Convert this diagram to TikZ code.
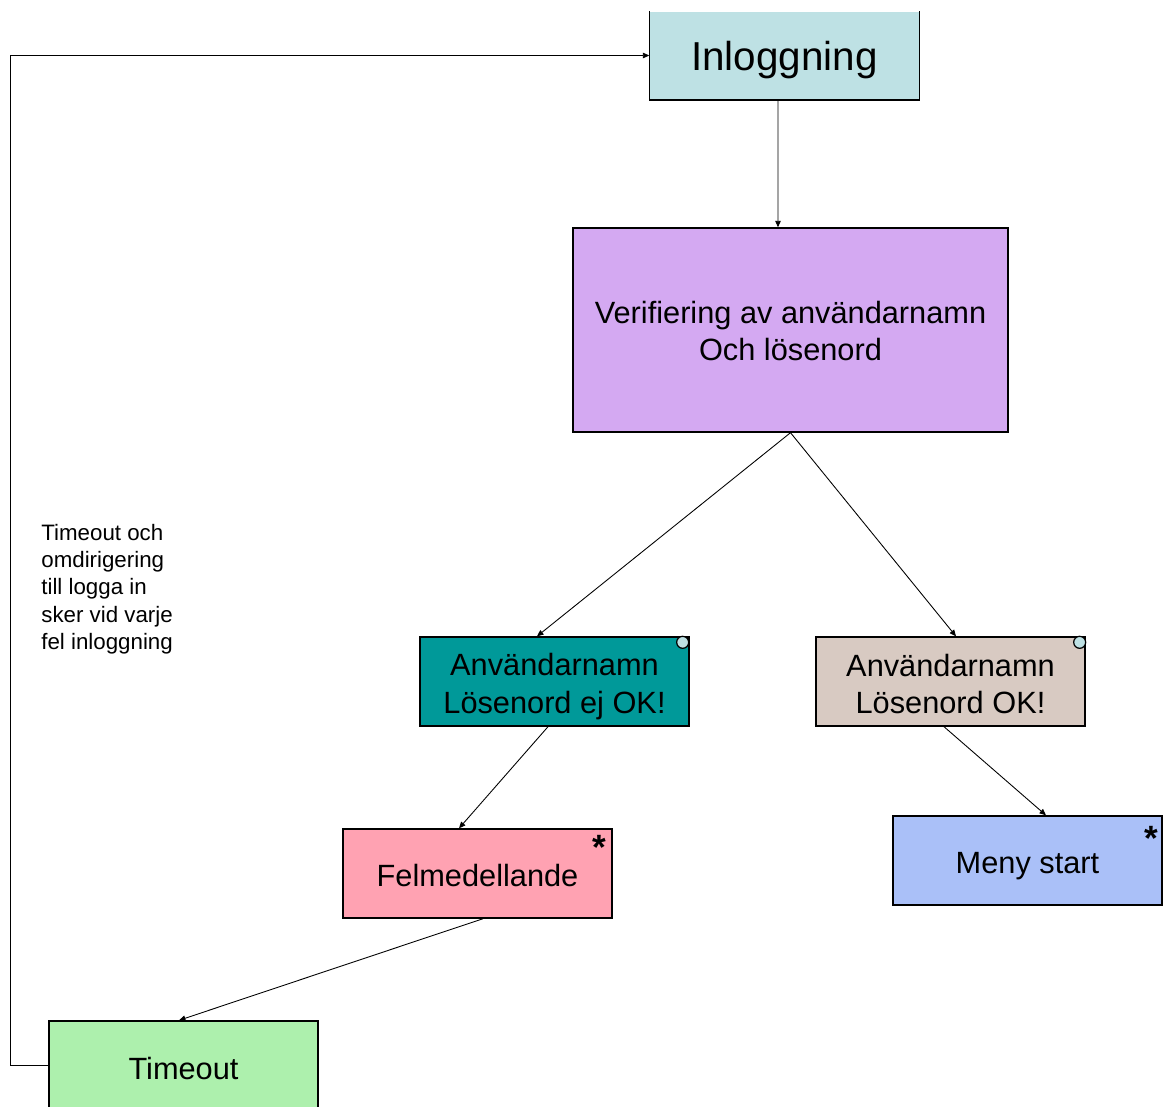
\documentclass[tikz,border=0pt]{standalone}
\usepackage{fontspec}
\setmainfont{Liberation Sans}
\usetikzlibrary{arrows.meta}

\definecolor{inlcol}{RGB}{190,225,228}
\definecolor{vercol}{RGB}{212,169,242}
\definecolor{nokcol}{RGB}{0,153,153}
\definecolor{okcol}{RGB}{216,202,194}
\definecolor{felcol}{RGB}{255,162,178}
\definecolor{menycol}{RGB}{170,192,248}
\definecolor{timcol}{RGB}{173,240,173}

\tikzset{
	box/.style={draw=black, line width=0.8pt, minimum width=5.38cm, minimum height=1.78cm, inner sep=0pt},
	txt/.style={inner sep=0pt, align=center, font=\fontsize{17.5}{21.5}\selectfont},
	flow/.style={-{Triangle[length=1.3mm,width=1.1mm]}, line width=0.5pt},
	dot/.style={circle, draw=black, fill=inlcol, line width=0.7pt, minimum size=0.24cm, inner sep=0pt},
	star/.style={anchor=north, inner sep=0pt, font=\fontsize{20}{20}\selectfont\bfseries},
}

\begin{document}
\begin{tikzpicture}[x=0.02cm, y=-0.02cm]
		\clip (0, 0) rectangle (1163, 1106);
		% boxes
		\node[box, draw=none, fill=inlcol, minimum height=1.76cm,
			label={[txt, yshift=-0.09cm, font=\fontsize{23}{27}\selectfont]center:Inloggning}] (inl) at (784.5, 55.5) {};
		\draw[line width=0.8pt] (inl.north west) -- (inl.south west) -- (inl.south east) -- (inl.north east);
		\node[box, fill=vercol, minimum width=8.7cm, minimum height=4.08cm,
			label={[txt, yshift=-0.02cm]center:Verifiering av användarnamn\\Och lösenord}] (ver) at (790.5, 330) {};
		\node[box, fill=nokcol, label={[txt, yshift=-0.1cm]center:Användarnamn\\Lösenord ej OK!}] (nok) at (554.5, 681.5) {};
		\node[box, fill=okcol, label={[txt, yshift=-0.05cm]center:Användarnamn\\Lösenord OK!}] (ok) at (950.5, 681.5) {};
		\node[box, fill=felcol, label={[txt, yshift=-0.03cm]center:Felmedellande}] (fel) at (477.5, 873.5) {};
		\node[box, fill=menycol, label={[txt, yshift=-0.12cm]center:Meny start}] (meny) at (1027.5, 860.5) {};
		\node[box, fill=timcol, label={[txt, yshift=-0.06cm]center:Timeout}] (tim) at (183.5, 1065.5) {};
		% markers
		\node[dot] (nokdot) at ([xshift=-0.14cm, yshift=-0.12cm]nok.north east) {};
		\node[dot] (okdot) at ([xshift=-0.12cm, yshift=-0.12cm]ok.north east) {};
		\node[star] (felstar) at ([xshift=-0.26cm, yshift=-0.14cm]fel.north east) {*};
		\node[star] (menystar) at ([xshift=-0.22cm, yshift=-0.22cm]meny.north east) {*};
		% note
		\node[anchor=north west, align=left, inner sep=0pt, font=\fontsize{12.7}{15.5}\selectfont] (note) at (41, 524)
			{Timeout och\\omdirigering\\till logga in\\sker vid varje\\fel inloggning};
		% connectors
		\draw[flow] ([xshift=-0.13cm]inl.south) -- ([xshift=-0.25cm]ver.north);
		\draw[flow] (ver.south) -- ([xshift=-0.35cm]nok.north);
		\draw[flow] (ver.south) -- ([xshift=0.11cm]ok.north);
		\draw[flow] ([xshift=-0.13cm]nok.south) -- ([xshift=-0.37cm]fel.north);
		\draw[flow] ([xshift=-0.13cm]ok.south) -- ([xshift=0.37cm]meny.north);
		\draw[flow] ([xshift=0.11cm]fel.south) -- ([xshift=-0.09cm]tim.north);
		\coordinate (loopb) at (10, 1065.5);
		\coordinate (loopt) at (10, 55.5);
		\draw[flow] (tim.west) -- (loopb) -- (loopt) -- (inl.west);
	\end{tikzpicture}
\end{document}
